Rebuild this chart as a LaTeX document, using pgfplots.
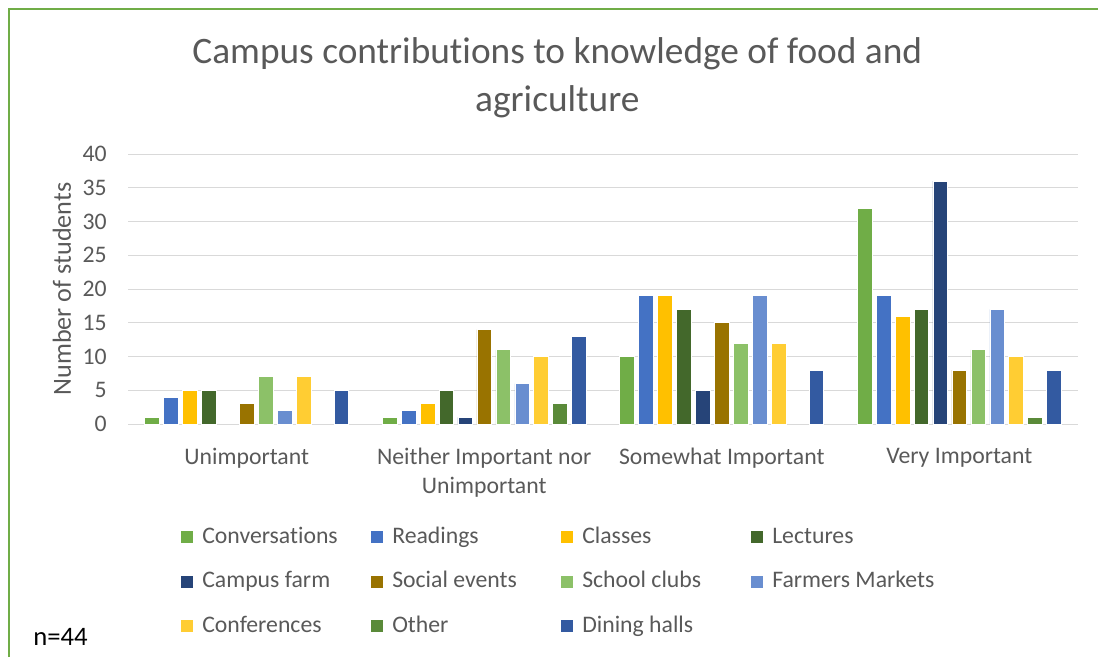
\documentclass[border=0pt]{standalone}
\usepackage{pgfplots}
\pgfplotsset{compat=1.18}
\usepackage{fontspec}
\setmainfont{Carlito}[Ligatures={NoCommon}]
\definecolor{c1}{HTML}{70AD47}
\definecolor{c2}{HTML}{4472C4}
\definecolor{c3}{HTML}{FFC000}
\definecolor{c4}{HTML}{43682B}
\definecolor{c5}{HTML}{264478}
\definecolor{c6}{HTML}{997300}
\definecolor{c7}{HTML}{8CC168}
\definecolor{c8}{HTML}{698ED0}
\definecolor{c9}{HTML}{FFCD33}
\definecolor{c10}{HTML}{5A8A39}
\definecolor{c11}{HTML}{335AA1}
\definecolor{gridc}{HTML}{D9D9D9}
\definecolor{tc}{HTML}{595959}
\begin{document}
\begin{tikzpicture}
\useasboundingbox (0,0) rectangle (823.5pt,492.75pt);
\draw[color=c1, line width=1.5pt] (6.75pt,0) -- (6.75pt,486pt) -- (823.5pt,486pt);
\node[align=center, font=\fontsize{28}{36}\selectfont, text=tc] at (418pt,434.5pt) {Campus contributions to knowledge of food and\\agriculture};
\node[anchor=west, font=\fontsize{20}{24}\selectfont, inner sep=0pt] at (24.75pt,15pt) {n=44};
\begin{axis}[
  at={(96pt,174.75pt)}, anchor=south west,
  scale only axis, width=712.5pt, height=202.5pt,
  xmin=-0.5, xmax=3.5, ymin=0, ymax=40,
  ytick={0,5,...,40},
  xtick={0,1,2,3},
  xticklabels={Unimportant,{Neither Important nor\\Unimportant},Somewhat Important,Very Important},
  ymajorgrids, grid style={color=gridc, line width=0.75pt},
  axis x line*=bottom, axis y line*=left,
  y axis line style={draw=none},
  x axis line style={color=gridc, line width=0.75pt},
  major tick length=0pt,
  tick label style={font=\fontsize{17.8}{21.75}\selectfont, text=tc},
  xticklabel style={align=center, anchor=north, yshift=-14.5pt},
  yticklabel style={inner xsep=0pt, xshift=-15.75pt},
  /pgf/number format/assume math mode=true,
  ylabel={Number of students},
  ylabel style={at={(axis description cs:-0.0695,0.5)}, anchor=center, font=\fontsize{19.6}{24}\selectfont, text=tc},
  ybar=3.2pt, bar width=11pt,
  every axis plot/.append style={draw=white, line width=0.4pt},
  every axis plot post/.append style={legend image code/.code={\path[##1, draw=none] (0pt,-4.5pt) rectangle (9pt,4.5pt);}},
  legend columns=4,
  legend cell align=left,
  legend style={draw=none, fill=none, at={(axis description cs:0.0558,-0.3767)}, anchor=north west,
    font=\fontsize{17.8}{21.75}\selectfont, text=tc, inner sep=0pt, column sep=6.75pt, row sep=16.4pt,
    nodes={inner sep=0pt, text height=13pt, text depth=4pt}},
]
\addplot[fill=c1] coordinates {(0,1) (1,1) (2,10) (3,32)};
\addlegendentry{\makebox[120pt][l]{Conversations}}
\addplot[fill=c2] coordinates {(0,4) (1,2) (2,19) (3,19)};
\addlegendentry{\makebox[120pt][l]{Readings}}
\addplot[fill=c3] coordinates {(0,5) (1,3) (2,19) (3,16)};
\addlegendentry{\makebox[120pt][l]{Classes}}
\addplot[fill=c4] coordinates {(0,5) (1,5) (2,17) (3,17)};
\addlegendentry{\makebox[120pt][l]{Lectures}}
\addplot[fill=c5] coordinates {(1,1) (2,5) (3,36)};
\addlegendentry{\makebox[120pt][l]{Campus farm}}
\addplot[fill=c6] coordinates {(0,3) (1,14) (2,15) (3,8)};
\addlegendentry{\makebox[120pt][l]{Social events}}
\addplot[fill=c7] coordinates {(0,7) (1,11) (2,12) (3,11)};
\addlegendentry{\makebox[120pt][l]{School clubs}}
\addplot[fill=c8] coordinates {(0,2) (1,6) (2,19) (3,17)};
\addlegendentry{\makebox[120pt][l]{Farmers Markets}}
\addplot[fill=c9] coordinates {(0,7) (1,10) (2,12) (3,10)};
\addlegendentry{\makebox[120pt][l]{Conferences}}
\addplot[fill=c10] coordinates {(1,3) (3,1)};
\addlegendentry{\makebox[120pt][l]{Other}}
\addplot[fill=c11] coordinates {(0,5) (1,13) (2,8) (3,8)};
\addlegendentry{\makebox[120pt][l]{Dining halls}}
\end{axis}
\end{tikzpicture}
\end{document}
